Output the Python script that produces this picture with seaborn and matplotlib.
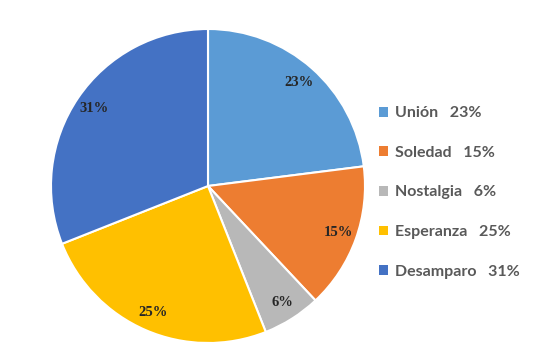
import matplotlib
matplotlib.use('Agg')
import matplotlib.pyplot as plt
import seaborn as sns
from matplotlib.patches import Patch

# Datos
categorias = ['Unión', 'Soledad', 'Nostalgia', 'Esperanza', 'Desamparo']
valores = [23, 15, 6, 25, 31]
colores = sns.color_palette(['#5B9BD5', '#ED7D31', '#B8B8B8', '#FFC000', '#4472C4'])

sns.set_theme(style='white')

fig = plt.figure(figsize=(5.5, 3.55), dpi=100)
# eje cuadrado para el pastel
r_px = 157
ax = fig.add_axes([(208 - r_px) / 550, (169 - r_px) / 355, 2 * r_px / 550, 2 * r_px / 355])

wedges, textos, pcts = ax.pie(
    valores, colors=colores, startangle=90, counterclock=False,
    autopct='%1.0f%%', pctdistance=0.88,
    wedgeprops=dict(edgecolor='white', linewidth=1.5),
    textprops=dict(family='Liberation Serif', fontweight='bold', fontsize=10.5, color='#262626'),
)
ax.set_xlim(-1, 1)
ax.set_ylim(-1, 1)
ax.set_aspect('equal')
ax.axis('off')

# Leyenda
handles = [Patch(facecolor=c, edgecolor='none') for c in colores]
etiquetas = [f'{c}   {v}%' for c, v in zip(categorias, valores)]
fig.legend(handles, etiquetas, loc='upper left', bbox_to_anchor=(365 / 550, 1 - 92 / 355),
           frameon=False, handlelength=0.55, handleheight=0.55, handletextpad=0.4,
           labelspacing=1.6, prop=dict(family='Lato', weight='bold', size=11.5),
           labelcolor='#595959')

fig.savefig('out.png', dpi=100, facecolor='white')
